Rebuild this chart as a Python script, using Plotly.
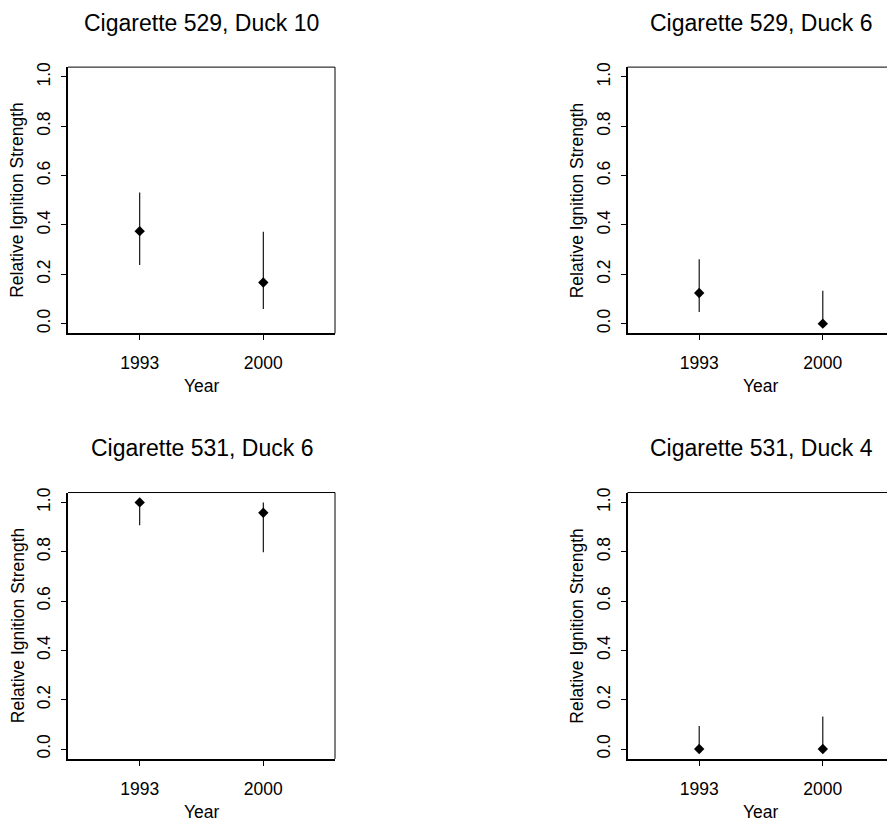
import plotly.graph_objects as go

# ---- data ----
years = [1993, 2000]
year_labels = ["1993", "2000"]

titles = ["Cigarette 529, Duck 10", "Cigarette 529, Duck 6",
          "Cigarette 531, Duck 6", "Cigarette 531, Duck 4"]

est_529_d10 = [0.375, 0.167]
lo_529_d10 = [0.238, 0.059]
hi_529_d10 = [0.532, 0.373]

est_529_d6 = [0.124, 0.0]
lo_529_d6 = [0.047, 0.0]
hi_529_d6 = [0.261, 0.133]

est_531_d6 = [1.0, 0.958]
lo_531_d6 = [0.907, 0.798]
hi_531_d6 = [1.0, 1.0]

est_531_d4 = [0.0, 0.0]
lo_531_d4 = [0.0, 0.0]
hi_531_d4 = [0.093, 0.132]

y_ticks = [0.0, 0.2, 0.4, 0.6, 0.8, 1.0]
y_ticktext = ["0.0", "0.2", "0.4", "0.6", "0.8", "1.0"]

panels = [
    (est_529_d10, lo_529_d10, hi_529_d10),
    (est_529_d6, lo_529_d6, hi_529_d6),
    (est_531_d6, lo_531_d6, hi_531_d6),
    (est_531_d4, lo_531_d4, hi_531_d4),
]

# ---- layout geometry (pixels) ----
W, H = 887, 823
panel_w = 267.0
left_x0 = 68.0
right_x0 = 627.5
top_y0, top_y1 = 62.5, 330.5
bot_y0, bot_y1 = 490.5, 758.5

x_lo, x_hi_full = 1988.94, 2004.06
px_per_year = panel_w / (x_hi_full - x_lo)

FONT = "Liberation Sans, Arial, sans-serif"
TICK_SIZE = 17.5
TITLE_SIZE = 23

fig = go.Figure()
layout = dict(
    width=W, height=H, autosize=False,
    margin=dict(l=0, r=0, t=0, b=0),
    paper_bgcolor="white", plot_bgcolor="white",
    showlegend=False,
    font=dict(family=FONT, color="black", size=TICK_SIZE),
)

shapes = []
annotations = []

positions = [(left_x0, top_y0, top_y1), (right_x0, top_y0, top_y1),
             (left_x0, bot_y0, bot_y1), (right_x0, bot_y0, bot_y1)]

for i, ((est, lo, hi), (px0, py0, py1)) in enumerate(zip(panels, positions)):
    idx = "" if i == 0 else str(i + 1)
    xa = "xaxis" + idx
    ya = "yaxis" + idx
    px1 = min(px0 + panel_w, W)
    dom_w = px1 - px0
    x_hi = x_lo + dom_w / px_per_year

    fig.add_trace(go.Scatter(
        x=years, y=est, mode="markers",
        xaxis="x" + idx, yaxis="y" + idx,
        marker=dict(symbol="diamond", size=8, color="black", line=dict(width=0)),
        error_y=dict(type="data", symmetric=False,
                     array=[h - e for h, e in zip(hi, est)],
                     arrayminus=[e - l for e, l in zip(est, lo)],
                     width=0, thickness=1.1, color="black"),
        cliponaxis=False,
    ))

    layout[xa] = dict(
        domain=[px0 / W, px1 / W], range=[x_lo, x_hi],
        tickvals=years, ticktext=year_labels,
        ticks="outside", ticklen=5, tickwidth=1, tickcolor="black",
        showline=True, linewidth=2, linecolor="black", mirror=False,
        showgrid=False, zeroline=False, anchor="y" + idx,
        tickfont=dict(size=TICK_SIZE, family=FONT, color="black"),
        ticklabelstandoff=8,
        fixedrange=True,
    )
    layout[ya] = dict(
        domain=[1 - py1 / H, 1 - py0 / H], range=[-0.04, 1.04],
        tickvals=y_ticks, ticktext=y_ticktext, tickangle=-90,
        ticks="outside", ticklen=5, tickwidth=1, tickcolor="black",
        showline=True, linewidth=2, linecolor="black", mirror=False,
        showgrid=False, zeroline=False, anchor="x" + idx,
        tickfont=dict(size=TICK_SIZE, family=FONT, color="black"),
        ticklabelstandoff=4,
        fixedrange=True,
    )

    # top and right box edges (right may be cut off by the page edge)
    xr = "x" + idx + " domain"
    yr = "y" + idx + " domain"
    x_right = panel_w / dom_w
    shapes.append(dict(type="line", xref=xr, yref=yr, x0=0, x1=x_right, y0=1, y1=1,
                       line=dict(color="black", width=1)))
    shapes.append(dict(type="line", xref=xr, yref=yr, x0=x_right, x1=x_right, y0=0, y1=1,
                       line=dict(color="black", width=1)))

    cx = px0 + panel_w / 2
    # title
    annotations.append(dict(
        text=titles[i], xref="paper", yref="paper",
        x=cx / W, y=1 - (py0 - 44.5) / H, xanchor="center", yanchor="middle",
        showarrow=False, font=dict(size=TITLE_SIZE, family=FONT, color="black"),
    ))
    # x axis title
    annotations.append(dict(
        text="Year", xref="paper", yref="paper",
        x=cx / W, y=1 - (py1 + 53) / H, xanchor="center", yanchor="middle",
        showarrow=False, font=dict(size=TICK_SIZE, family=FONT, color="black"),
    ))
    # y axis title
    annotations.append(dict(
        text="Relative Ignition Strength", xref="paper", yref="paper",
        x=(px0 - 50.5) / W, y=1 - ((py0 + py1) / 2) / H,
        xanchor="center", yanchor="middle", textangle=-90,
        showarrow=False, font=dict(size=TICK_SIZE, family=FONT, color="black"),
    ))

layout["shapes"] = shapes
layout["annotations"] = annotations
fig.update_layout(**layout)

fig.write_html(
    "out.html",
    config={"displayModeBar": False},
    post_script="document.body.style.margin='0';document.body.style.overflow='hidden';"
                "document.documentElement.style.overflow='hidden';",
)
